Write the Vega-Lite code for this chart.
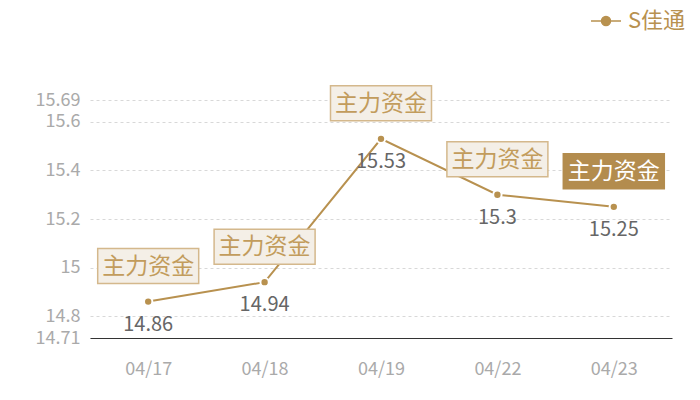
{
  "$schema": "https://vega.github.io/schema/vega-lite/v6.json",
  "autosize": "none",
  "width": 582,
  "height": 238,
  "padding": {"left": 90, "top": 100, "right": 28, "bottom": 62},
  "config": {
    "view": {"stroke": null},
    "font": "Noto Sans CJK SC"
  },
  "data": {
    "values": [
      {"date": "04/17", "price": 14.86, "tag": "主力资金", "series": "S佳通"},
      {"date": "04/18", "price": 14.94, "tag": "主力资金", "series": "S佳通"},
      {"date": "04/19", "price": 15.53, "tag": "主力资金", "series": "S佳通"},
      {"date": "04/22", "price": 15.3, "tag": "主力资金", "series": "S佳通"},
      {"date": "04/23", "price": 15.25, "tag": "主力资金", "series": "S佳通"}
    ]
  },
  "encoding": {
    "x": {
      "field": "date",
      "type": "ordinal",
      "scale": {"type": "point", "padding": 0.5},
      "axis": {
        "title": null,
        "labelAngle": 0,
        "labelColor": "#aaaaaa",
        "labelFontSize": 18,
        "labelPadding": 22,
        "ticks": false,
        "domainColor": "#333333",
        "domainWidth": 1,
        "grid": false
      }
    },
    "y": {
      "field": "price",
      "type": "quantitative",
      "scale": {"domain": [14.71, 15.69], "nice": false, "zero": false},
      "axis": {
        "title": null,
        "values": [14.71, 14.8, 15, 15.2, 15.4, 15.6, 15.69],
        "labelExpr": "toString(datum.value)",
        "labelColor": "#aaaaaa",
        "labelFontSize": 18,
        "labelPadding": 10,
        "labelOverlap": false,
        "labelBound": false,
        "labelFlush": false,
        "ticks": false,
        "domain": false,
        "gridColor": "#d8d8d8",
        "gridDash": [3, 3],
        "gridWidth": 1
      }
    }
  },
  "layer": [
    {
      "mark": {"type": "line", "color": "#b8914f", "strokeWidth": 2},
      "encoding": {
        "color": {
          "field": "series",
          "type": "nominal",
          "scale": {"range": ["#b8914f"]},
          "legend": {
            "title": null,
            "orient": "none",
            "legendX": 500,
            "legendY": -95,
            "symbolType": "M-1,0L-0.3,0M0.3,0L1,0M0.3,0A0.3,0.3,0,1,1,-0.3,0A0.3,0.3,0,1,1,0.3,0Z",
            "symbolSize": 900,
            "symbolStrokeWidth": 1.5,
            "symbolFillColor": "#b8914f",
            "labelFontSize": 22,
            "labelColor": "#b8914f",
            "labelOffset": 6
          }
        }
      }
    },
    {
      "mark": {"type": "point", "filled": true, "size": 70, "color": "#b8914f", "stroke": "white", "strokeWidth": 2, "opacity": 1}
    },
    {
      "mark": {"type": "text", "dy": 23, "fontSize": 20, "color": "#666666"},
      "encoding": {"text": {"field": "price", "type": "quantitative"}}
    },
    {
      "mark": {
        "type": "bar",
        "width": 101,
        "yOffset": -53,
        "y2Offset": -18,
        "strokeWidth": 1.5,
        "opacity": 1
      },
      "encoding": {
        "y2": {"field": "price"},
        "fill": {
          "condition": {"test": "datum.date == '04/23'", "value": "#b38c4e"},
          "value": "#f4efe7"
        },
        "stroke": {
          "condition": {"test": "datum.date == '04/23'", "value": "#b38c4e"},
          "value": "#d4b88c"
        }
      }
    },
    {
      "mark": {"type": "text", "dy": -35, "fontSize": 23, "baseline": "middle"},
      "encoding": {
        "text": {"field": "tag"},
        "color": {
          "condition": {"test": "datum.date == '04/23'", "value": "#ffffff"},
          "value": "#c29c5c"
        }
      }
    }
  ]
}
